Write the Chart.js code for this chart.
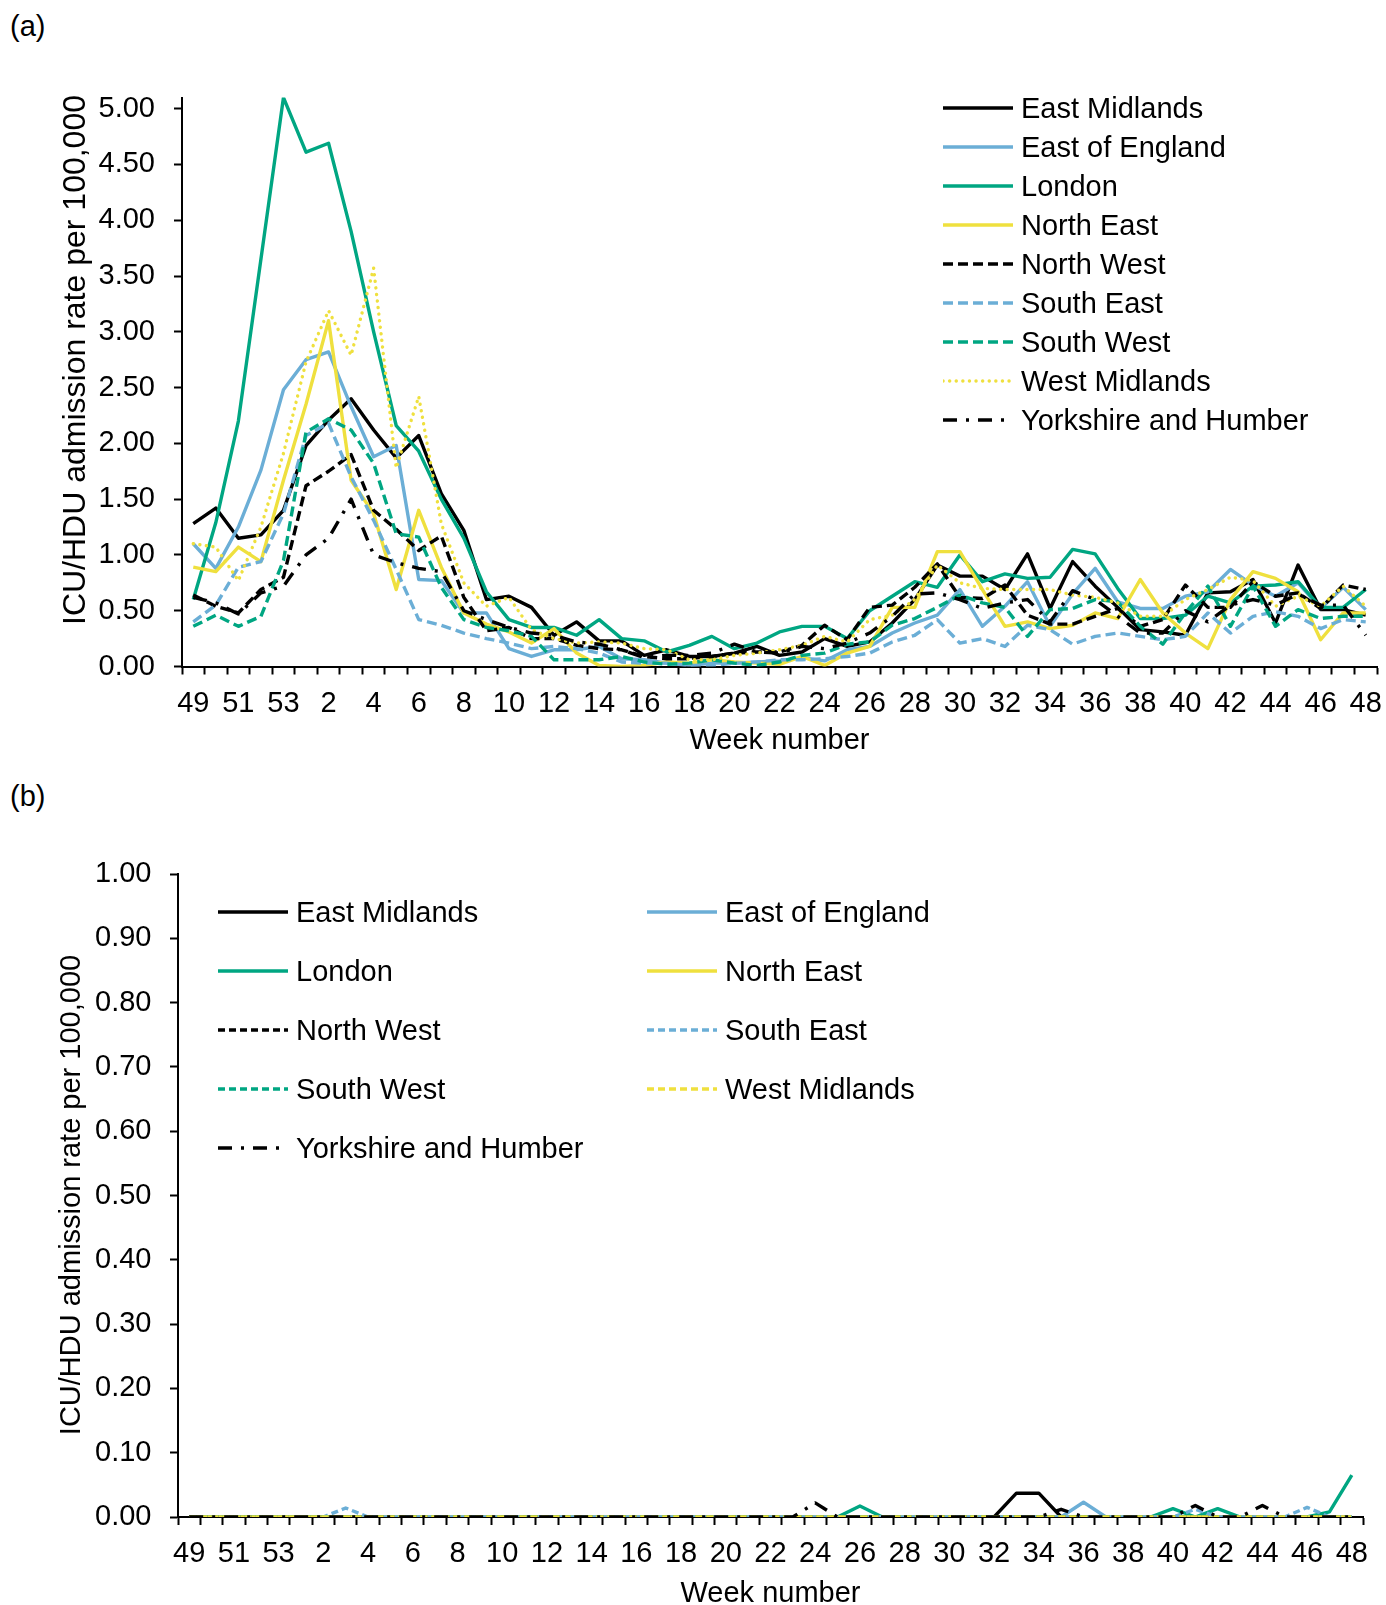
<!DOCTYPE html>
<html>
<head>
<meta charset="utf-8">
<script src="https://cdn.jsdelivr.net/npm/chart.js@4.4.1/dist/chart.umd.min.js"></script>
<style>
  html, body { margin: 0; padding: 0; background: #fff; overflow: hidden; }
  body { width: 1386px; height: 1605px; position: relative; font-family: 'Liberation Sans', Arial, sans-serif; color: #000; }
  canvas { position: absolute; left: 0; }
  .tag { position: absolute; left: 10px; font-size: 29px; line-height: 34px; }
  .item { position: absolute; height: 34px; }
  .item svg { position: absolute; left: 0; top: 0; }
  .item span { position: absolute; top: 0; font-size: 29px; line-height: 34px; white-space: nowrap; }
</style>
</head>
<body>
<div class="tag" style="top:9px">(a)</div>
<div class="tag" style="top:779px">(b)</div>
<canvas id="chartA" width="1386" height="770" style="top:0"></canvas>
<canvas id="chartB" width="1386" height="835" style="top:780px"></canvas>
<div id="legendA"></div>
<div id="legendB"></div>
<script>
// week labels: season runs from week 49 through week 48 of the next year
const weeks = ['49','50','51','52','53','1','2','3','4','5','6','7','8','9','10','11','12','13','14','15',
  '16','17','18','19','20','21','22','23','24','25','26','27','28','29','30','31','32','33','34','35',
  '36','37','38','39','40','41','42','43','44','45','46','47','48'];

const regions = ['East Midlands','East of England','London','North East','North West',
  'South East','South West','West Midlands','Yorkshire and Humber'];

/* ─── Panel (a) rates ─────────────────────────────────────────────── */
const eastMidlandsA = [1.28,1.42,1.15,1.18,1.40,1.98,2.21,2.40,2.12,1.87,2.07,1.55,1.22,0.60,0.63,
  0.53,0.28,0.40,0.23,0.23,0.10,0.15,0.09,0.09,0.12,0.18,
  0.10,0.13,0.25,0.18,0.22,0.39,0.60,0.91,0.81,0.81,0.69,1.01,0.52,0.94,0.72,
  0.53,0.33,0.31,0.28,0.66,0.67,0.78,0.39,0.91,0.51,0.51,0.46];
const eastEnglandA = [1.10,0.88,1.25,1.76,2.48,2.75,2.82,2.33,1.88,1.98,0.78,0.77,0.48,0.48,0.16,
  0.09,0.15,0.15,0.18,0.07,0.06,0.03,0.01,0.03,0.03,0.04,
  0.05,0.08,0.05,0.15,0.18,0.30,0.39,0.46,0.69,0.36,0.54,0.76,0.36,0.65,0.88,
  0.58,0.52,0.52,0.63,0.67,0.87,0.73,0.63,0.75,0.52,0.71,0.51];
const londonA = [0.60,1.29,2.20,3.65,5.10,4.61,4.69,3.90,3.00,2.16,1.93,1.50,1.15,0.67,0.42,
  0.35,0.35,0.28,0.42,0.25,0.23,0.13,0.19,0.27,0.16,0.21,
  0.31,0.36,0.36,0.25,0.50,0.63,0.76,0.71,1.00,0.76,0.83,0.79,0.80,1.05,1.01,
  0.70,0.43,0.43,0.46,0.63,0.57,0.72,0.73,0.76,0.53,0.53,0.69];
const northEastA = [0.89,0.85,1.07,0.94,1.67,2.35,3.10,1.67,1.37,0.69,1.40,0.89,0.48,0.38,0.31,
  0.21,0.34,0.12,0.01,0.00,0.01,0.04,0.03,0.06,0.04,0.03,
  0.02,0.09,0.01,0.12,0.18,0.53,0.53,1.03,1.03,0.69,0.36,0.40,0.34,0.37,0.48,
  0.43,0.78,0.48,0.30,0.16,0.60,0.85,0.79,0.67,0.24,0.48,0.48];
const northWestA = [0.64,0.54,0.48,0.69,0.80,1.62,1.75,1.90,1.40,1.23,1.04,1.17,0.62,0.32,0.35,
  0.25,0.25,0.19,0.16,0.15,0.09,0.07,0.07,0.09,0.12,0.13,
  0.13,0.19,0.37,0.24,0.53,0.55,0.71,0.92,0.62,0.61,0.73,0.46,0.38,0.38,0.45,
  0.52,0.36,0.42,0.73,0.53,0.53,0.76,0.63,0.66,0.52,0.73,0.69];
const southEastA = [0.40,0.55,0.89,0.94,1.37,2.07,2.18,1.70,1.31,0.87,0.42,0.37,0.30,0.25,0.21,
  0.16,0.18,0.16,0.12,0.04,0.03,0.03,0.01,0.01,0.03,0.04,
  0.06,0.06,0.07,0.09,0.12,0.22,0.28,0.42,0.21,0.25,0.18,0.37,0.33,0.20,0.27,
  0.30,0.27,0.24,0.27,0.48,0.30,0.45,0.49,0.45,0.34,0.42,0.40];
const southWestA = [0.36,0.46,0.36,0.45,0.95,2.10,2.22,2.12,1.82,1.19,1.16,0.71,0.42,0.35,0.32,
  0.27,0.06,0.06,0.06,0.09,0.04,0.02,0.03,0.06,0.03,0.01,
  0.04,0.10,0.12,0.20,0.22,0.37,0.43,0.53,0.64,0.57,0.53,0.27,0.51,0.52,0.60,
  0.58,0.36,0.20,0.48,0.72,0.36,0.72,0.36,0.51,0.43,0.45,0.45];
const westMidlandsA = [1.10,1.07,0.77,1.25,1.91,2.73,3.19,2.79,3.57,1.78,2.42,1.28,0.75,0.54,0.62,
  0.33,0.25,0.21,0.22,0.21,0.16,0.15,0.06,0.06,0.10,0.12,
  0.15,0.19,0.27,0.22,0.42,0.46,0.60,0.91,0.75,0.70,0.69,0.69,0.69,0.64,0.62,
  0.57,0.45,0.45,0.60,0.69,0.80,0.77,0.54,0.63,0.54,0.72,0.54];
const yorkshireA = [0.62,0.57,0.47,0.66,0.72,1.00,1.15,1.50,1.00,0.93,0.88,0.85,0.50,0.42,0.35,
  0.30,0.28,0.22,0.20,0.15,0.08,0.10,0.10,0.12,0.20,0.13,
  0.12,0.18,0.16,0.21,0.30,0.45,0.65,0.66,0.60,0.52,0.57,0.60,0.40,0.68,0.60,
  0.45,0.30,0.30,0.50,0.40,0.55,0.60,0.55,0.65,0.55,0.55,0.28];

/* ─── Panel (b) rates ─────────────────────────────────────────────── */
const eastMidlandsB = [0,0,0,0,0,0,0,0,0,0, 0,0,0,0,0,0,0,0,0,0, 0,0,0,0,0,0,0,0,0,0,
  0,0,0,0,0,0,0,0.037,0.037,0, 0,0,0,0,0,0,0,0,0,0, 0,0,0];
const eastEnglandB = [0,0,0,0,0,0,0,0,0,0, 0,0,0,0,0,0,0,0,0,0, 0,0,0,0,0,0,0,0,0,0,
  0,0,0,0,0,0,0,0,0,0, 0.023,0,0,0,0,0,0,0,0,0, 0,0,0];
const londonB = [0,0,0,0,0,0,0,0,0,0, 0,0,0,0,0,0,0,0,0,0, 0,0,0,0,0,0,0,0,0,0,
  0.017,0,0,0,0,0,0,0,0,0, 0,0,0,0,0.013,0,0.013,0,0,0, 0,0.008,0.065];
const northEastB = [0,0,0,0,0,0,0,0,0,0, 0,0,0,0,0,0,0,0,0,0, 0,0,0,0,0,0,0,0,0,0,
  0,0,0,0,0,0,0,0,0,0, 0,0,0,0,0,0,0,0,0,0, 0,0,0];
const northWestB = [0,0,0,0,0,0,0,0,0,0, 0,0,0,0,0,0,0,0,0,0, 0,0,0,0,0,0,0,0,0,0,
  0,0,0,0,0,0,0,0,0,0, 0,0,0,0,0,0,0,0,0,0, 0,0,0];
const southEastB = [0,0,0,0,0,0,0,0.014,0,0, 0,0,0,0,0,0,0,0,0,0, 0,0,0,0,0,0,0,0,0,0,
  0,0,0,0,0,0,0,0,0,0, 0,0,0,0,0,0.012,0,0,0,0, 0.015,0,0];
const southWestB = [0,0,0,0,0,0,0,0,0,0, 0,0,0,0,0,0,0,0,0,0, 0,0,0,0,0,0,0,0,0,0,
  0,0,0,0,0,0,0,0,0,0, 0,0,0,0,0,0,0,0,0,0, 0,0,0];
const westMidlandsB = [0,0,0,0,0,0,0,0,0,0, 0,0,0,0,0,0,0,0,0,0, 0,0,0,0,0,0,0,0,0,0,
  0,0,0,0,0,0,0,0,0,0, 0,0,0,0,0,0,0,0,0,0, 0,0,0];
const yorkshireB = [0,0,0,0,0,0,0,0,0,0, 0,0,0,0,0,0,0,0,0,0, 0,0,0,0,0,0,0,0,0.022,0,
  0,0,0,0,0,0,0,0,0,0.012, 0,0,0,0,0,0.018,0,0,0.018,0, 0,0,0];

const yTicksA = [0, 5.0, 0.5];   // min, max labelled, step
const yTicksB = [0, 1.0, 0.1];

const C = {
  black:  '#000000',
  blue:   '#6baed6',
  green:  '#00a682',
  yellow: '#efe03e',
};

// line look per region: colour, dash, cap  (panel a / panel b)
const styleA = [
  [C.black,  [],            'butt'],
  [C.blue,   [],            'butt'],
  [C.green,  [],            'butt'],
  [C.yellow, [],            'butt'],
  [C.black,  [10, 5],       'butt'],
  [C.blue,   [10, 5],       'butt'],
  [C.green,  [10, 5],       'butt'],
  [C.yellow, [0.1, 6.5],    'round'],
  [C.black,  [14, 9, 3, 9], 'butt'],
];
const styleB = [
  [C.black,  [],            'butt'],
  [C.blue,   [],            'butt'],
  [C.green,  [],            'butt'],
  [C.yellow, [],            'butt'],
  [C.black,  [7, 4],        'butt'],
  [C.blue,   [7, 4],        'butt'],
  [C.green,  [7, 4],        'butt'],
  [C.yellow, [7, 4],        'butt'],
  [C.black,  [14, 9, 3, 9], 'butt'],
];

const LINE_W = 3.4;
const FONT = "'Liberation Sans', Arial, sans-serif";

Chart.defaults.font.family = FONT;
Chart.defaults.color = '#000';

/* ─── rotated axis title at a fixed spot (Excel centres it on the whole axis) ─── */
const yTitle = {
  id: 'yTitle',
  afterDraw(chart, args, opts) {
    if (!opts.text) return;
    const ctx = chart.ctx;
    ctx.save();
    ctx.translate(opts.x, opts.y);
    ctx.rotate(-Math.PI / 2);
    ctx.font = `${opts.size}px ${FONT}`;
    ctx.fillStyle = '#000';
    ctx.textAlign = 'center';
    ctx.textBaseline = 'middle';
    ctx.fillText(opts.text, 0, 0);
    ctx.restore();
  }
};

function buildDatasets(series, styles) {
  return series.map((data, i) => ({
    label: regions[i],
    data,
    borderColor: styles[i][0],
    borderDash: styles[i][1],
    borderCapStyle: styles[i][2],
    borderJoinStyle: 'round',
    borderWidth: LINE_W,
    pointRadius: 0,
    tension: 0,
    fill: false,
    order: series.length - i,   // first series painted first, like the source
  }));
}

function makeChart(id, series, styles, ax) {
  new Chart(document.getElementById(id), {
    type: 'line',
    data: { labels: weeks, datasets: buildDatasets(series, styles) },
    plugins: [yTitle],
    options: {
      responsive: false,
      animation: false,
      devicePixelRatio: 1,
      layout: { padding: ax.padding },
      plugins: {
        legend: { display: false },
        tooltip: { enabled: false },
        yTitle: { text: 'ICU/HDU admission rate per 100,000', x: ax.titleX, y: ax.titleY, size: ax.titleSize },
      },
      scales: {
        x: {
          offset: true,
          grid: { offset: true, drawOnChartArea: false, tickLength: 8, tickWidth: 2, tickColor: '#000' },
          border: { color: '#000', width: 2 },
          ticks: {
            autoSkip: false, maxRotation: 0, minRotation: 0, padding: ax.xPad,
            font: { size: 29 },
            callback: (v, i) => (i % 2 === 0 ? weeks[i] : ''),
          },
          title: { display: true, text: 'Week number', font: { size: 29 }, padding: 0 },
          afterFit: s => {
            s.height = ax.xHeight;
            // edge labels fit inside the category slots; don't let them squeeze the plot
            s.paddingLeft = 0;
            s.paddingRight = 0;
          },
        },
        y: {
          min: ax.ticks[0],
          max: ax.yMax,
          grid: { drawOnChartArea: false, tickLength: 8, tickWidth: 2, tickColor: '#000' },
          border: { color: '#000', width: 2 },
          ticks: {
            stepSize: ax.ticks[2], includeBounds: false, padding: ax.yPad,
            font: { size: 29 },
            callback: v => (v <= ax.ticks[1] + 1e-9 ? v.toFixed(2) : ''),
          },
          afterFit: s => { s.width = ax.yWidth; },
        },
      },
    },
  });
}

makeChart('chartA',
  [eastMidlandsA, eastEnglandA, londonA, northEastA, northWestA, southEastA, southWestA, westMidlandsA, yorkshireA],
  styleA,
  { padding: { top: 97.5, right: 9, bottom: 11.5, left: 0 }, yMax: 5.1, ticks: yTicksA,
    xHeight: 92, xPad: 12, yWidth: 182, yPad: 19, titleSize: 32, titleX: 76, titleY: 360 });

makeChart('chartB',
  [eastMidlandsB, eastEnglandB, londonB, northEastB, northWestB, southEastB, southWestB, westMidlandsB, yorkshireB],
  styleB,
  { padding: { top: 94, right: 23, bottom: 3.6, left: 0 }, yMax: 1.0, ticks: yTicksB,
    xHeight: 94.4, xPad: 11.6, yWidth: 178, yPad: 18.5, titleSize: 29, titleX: 72, titleY: 415 });

/* ─── Legends (HTML, placed like the source) ─────────────────────── */
function addLegend(hostId, styles, spots) {
  const host = document.getElementById(hostId);
  spots.forEach(([i, x, y]) => {
    const [color, dash, cap] = styles[i];
    const div = document.createElement('div');
    div.className = 'item';
    div.style.left = x + 'px';
    div.style.top = (y - 17) + 'px';
    div.innerHTML =
      `<svg width="72" height="34"><line x1="0" y1="17" x2="70" y2="17" stroke="${color}" stroke-width="${LINE_W}"` +
      ` stroke-dasharray="${dash.length ? dash.join(' ') : 'none'}" stroke-linecap="${cap}"/></svg>` +
      `<span style="left:78px">${regions[i]}</span>`;
    host.appendChild(div);
  });
}

addLegend('legendA', styleA, regions.map((r, i) => [i, 943, 108 + i * 39]));
addLegend('legendB', styleB, [
  [0, 218, 912], [1, 647, 912],
  [2, 218, 971], [3, 647, 971],
  [4, 218, 1030], [5, 647, 1030],
  [6, 218, 1089], [7, 647, 1089],
  [8, 218, 1148],
]);
</script>
</body>
</html>
